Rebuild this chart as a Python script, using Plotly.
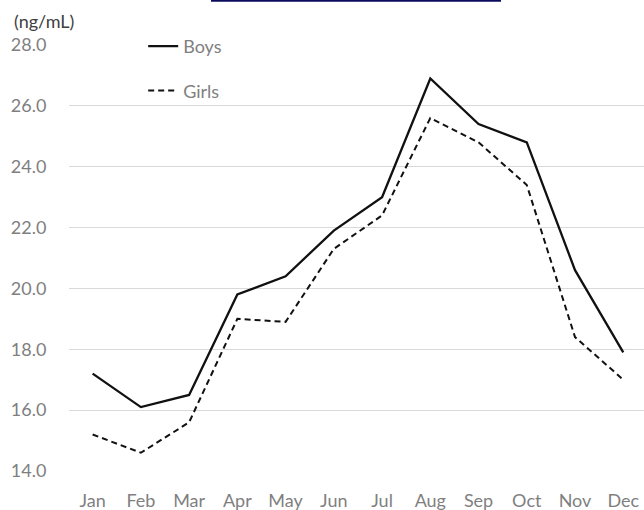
import plotly.graph_objects as go

months = ["Jan", "Feb", "Mar", "Apr", "May", "Jun", "Jul", "Aug", "Sep", "Oct", "Nov", "Dec"]
boys = [17.2, 16.1, 16.5, 19.8, 20.4, 21.9, 23.0, 26.9, 25.4, 24.8, 20.6, 17.9]
girls = [15.2, 14.6, 15.6, 19.0, 18.9, 21.3, 22.4, 25.6, 24.8, 23.4, 18.4, 17.0]
y_ticks = [14, 16, 18, 20, 22, 24, 26, 28]
y_tick_labels = ["14.0", "16.0", "18.0", "20.0", "22.0", "24.0", "26.0", "28.0"]
unit_label = "(ng/mL)"

FONT = "Lato, 'Open Sans', sans-serif"
GRAY = "#7f7f7f"

fig = go.Figure()
fig.add_trace(go.Scatter(x=months, y=boys, name="Boys", mode="lines",
                         line=dict(color="#111111", width=2.3), legendgroup="b"))
fig.add_trace(go.Scatter(x=months, y=girls, name="Girls", mode="lines",
                         line=dict(color="#111111", width=2.0, dash="6px,4px"), legendgroup="g"))

fig.update_layout(
    width=644, height=510,
    margin=dict(l=69, r=0, t=45, b=39, autoexpand=False),
    paper_bgcolor="white", plot_bgcolor="white",
    font=dict(family=FONT, size=18, color=GRAY),
    showlegend=True,
    legend=dict(x=0.129, y=1.04, xanchor="left", yanchor="top",
                traceorder="grouped", tracegroupgap=18,
                bgcolor="rgba(0,0,0,0)", font=dict(size=18, color=GRAY)),
    xaxis=dict(type="category", range=[-0.49, 11.43], showgrid=False, zeroline=False,
               showline=False, ticks="outside", ticklen=13, tickcolor="rgba(0,0,0,0)",
               tickfont=dict(size=18, color=GRAY), automargin=False),
    yaxis=dict(range=[14, 28], tickvals=y_ticks, ticktext=y_tick_labels,
               showgrid=True, gridcolor="#d9d9d9", gridwidth=1, zeroline=False,
               showline=False, ticks="outside", ticklen=18, tickcolor="rgba(0,0,0,0)",
               tickfont=dict(size=18, color=GRAY), automargin=False),
    annotations=[dict(text=unit_label, xref="paper", yref="paper", x=-0.1, y=1.0 + 24 / 426,
                      xanchor="left", yanchor="middle", showarrow=False,
                      font=dict(size=18, color="#404040", family=FONT))],
    shapes=[dict(type="line", xref="paper", yref="paper", x0=(211 - 69) / 575, x1=(501 - 69) / 575,
                 y0=1 + 44.3 / 426, y1=1 + 44.3 / 426, line=dict(color="#0b0b5e", width=2))],
)

fig.write_html("out.html", config={"displayModeBar": False},
               post_script="document.body.style.margin='0px';document.body.style.overflow='hidden';")
